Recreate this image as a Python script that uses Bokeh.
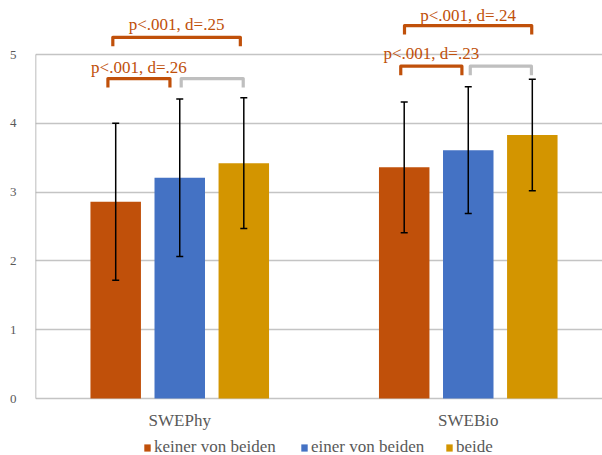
from bokeh.plotting import figure
from bokeh.models import (Range1d, FixedTicker, ColumnDataSource, Whisker, TeeHead,
                          Legend, LegendItem, Label)
from bokeh.embed import file_html
from bokeh.resources import INLINE

# ---- data ----
categories = ["SWEPhy", "SWEBio"]
series = ["keiner von beiden", "einer von beiden", "beide"]
colors = ["#C0500A", "#4472C4", "#D39500"]
means_keiner = [2.86, 3.36]
means_einer = [3.21, 3.61]
means_beide = [3.42, 3.83]
sd_keiner = [1.14, 0.95]
sd_einer = [1.145, 0.92]
sd_beide = [0.95, 0.81]
y_ticks = [0, 1, 2, 3, 4, 5]

# significance brackets: (category index, from series, to series, level, label, significant)
brackets = [
    (0, 0, 2, 5.25, "p<.001, d=.25", True),
    (0, 0, 1, 4.65, "p<.001, d=.26", True),
    (0, 1, 2, 4.65, "", False),
    (1, 0, 2, 5.42, "p<.001, d=.24", True),
    (1, 0, 1, 4.83, "p<.001, d=.23", True),
    (1, 1, 2, 4.83, "", False),
]
bracket_dx = [(-0.010, -0.012), (-0.027, -0.034), (0.005, -0.002),
              (0.001, -0.002), (-0.012, -0.022), (0.007, -0.003)]
label_dy = [0.186, 0.165, 0.0, 0.142, 0.189, 0.0]

means = [means_keiner, means_einer, means_beide]
sds = [sd_keiner, sd_einer, sd_beide]

# ---- layout constants ----
offsets = [-0.222, 0.0, 0.222]
bar_w = 0.175
cat_x = [i + 0.5 for i in range(len(categories))]
ORANGE = colors[0]
GRAY_BR = "#BFBFBF"
TXT = "#595959"
FONT = "Liberation Serif"

p = figure(width=602, height=455, output_backend="svg", toolbar_location=None,
           x_range=Range1d(0, 1.9653), y_range=Range1d(-0.8285, 5.785),
           x_axis_location=None, min_border_left=35, min_border_right=0,
           min_border_top=0, min_border_bottom=0)
p.outline_line_color = None
p.background_fill_color = "white"
p.xgrid.visible = False
p.ygrid.ticker = FixedTicker(ticks=y_ticks)
p.ygrid.grid_line_color = "#C4C4C4"
p.ygrid.grid_line_width = 1.4

ax = p.yaxis[0]
ax.ticker = FixedTicker(ticks=y_ticks)
ax.axis_line_color = None
ax.major_tick_line_color = None
ax.minor_tick_line_color = None
ax.major_label_standoff = 13
ax.major_label_text_font = FONT
ax.major_label_text_font_size = "13px"
ax.major_label_text_color = TXT

# y axis line only over the tick span
p.segment(x0=[0], y0=[min(y_ticks)], x1=[0], y1=[max(y_ticks)],
          line_color="#A6A6A6", line_width=1.5)

renderers = []
for k in range(3):
    xs = [c + offsets[k] for c in cat_x]
    src = ColumnDataSource(dict(x=xs, top=means[k],
                                upper=[m + s for m, s in zip(means[k], sds[k])],
                                lower=[m - s for m, s in zip(means[k], sds[k])]))
    r = p.vbar(x="x", top="top", width=bar_w, bottom=0, source=src,
               fill_color=colors[k], line_color=None)
    renderers.append(r)
    w = Whisker(source=src, base="x", upper="upper", lower="lower",
                line_color="black", line_width=1.5, level="overlay",
                upper_head=TeeHead(size=7, line_width=1.5, line_color="black"),
                lower_head=TeeHead(size=7, line_width=1.5, line_color="black"))
    p.add_layout(w)

# brackets
leg = 0.13
bxs, bys, bcol = [], [], []
for (ci, a, b, lvl, lab, sig), (dl, dr), dy in zip(brackets, bracket_dx, label_dy):
    x0 = cat_x[ci] + offsets[a] + dl
    x1 = cat_x[ci] + offsets[b] + dr
    bxs.append([x0, x0, x1, x1])
    bys.append([lvl - leg, lvl, lvl, lvl - leg])
    bcol.append(ORANGE if sig else GRAY_BR)
    if lab:
        p.add_layout(Label(x=(x0 + x1) / 2, y=lvl + dy, text=lab,
                           text_align="center", text_baseline="alphabetic",
                           text_font=FONT, text_font_size="17px",
                           text_color=ORANGE))
p.multi_line(xs=bxs, ys=bys, line_color=bcol, line_width=3.2, line_join="round")

# category labels
for cx, cat in zip(cat_x, categories):
    p.add_layout(Label(x=cx, y=-0.318, text=cat, text_align="center",
                       text_baseline="alphabetic", text_font=FONT,
                       text_font_size="17px", text_color=TXT))

# legends (one per entry for exact placement)
leg_x = [108, 265, 410]
for k in range(3):
    lg = Legend(items=[LegendItem(label=series[k], renderers=[renderers[k]])],
                location=(leg_x[k], -2), orientation="horizontal",
                glyph_width=8, glyph_height=9, label_standoff=3, label_height=16,
                label_text_font=FONT, label_text_font_size="17px",
                label_text_color=TXT, padding=0, margin=0, spacing=0,
                background_fill_alpha=0, border_line_color=None)
    p.add_layout(lg)

open("out.html", "w").write(file_html(p, INLINE))
